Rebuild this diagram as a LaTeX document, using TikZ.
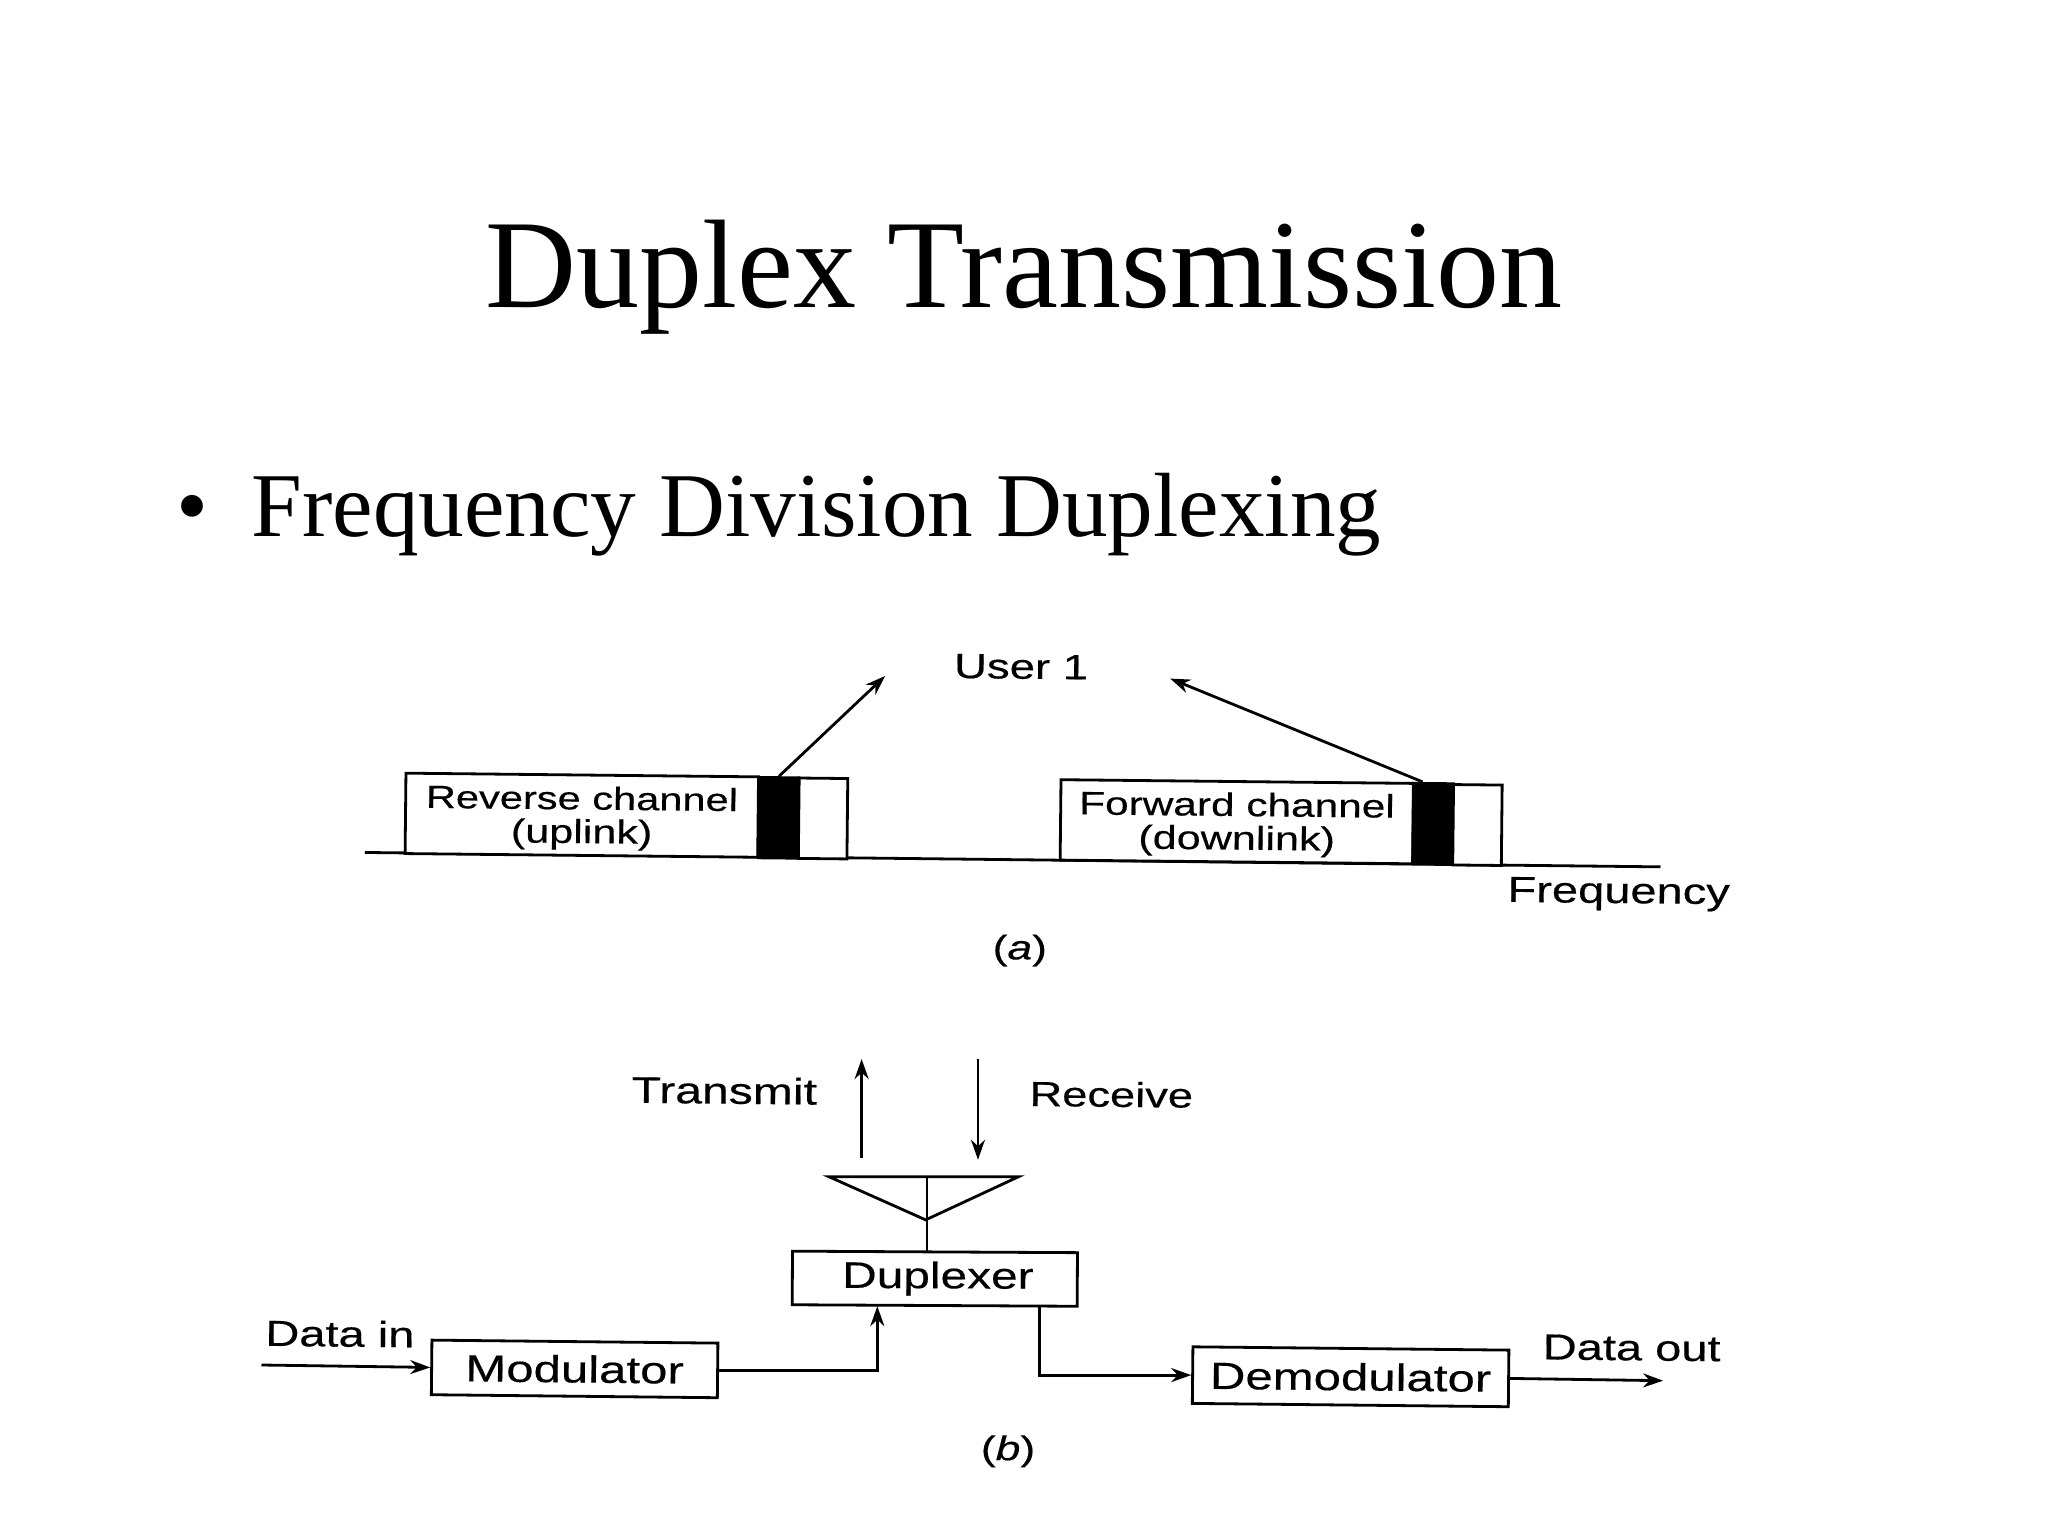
\documentclass[tikz,border=0pt]{standalone}
\usepackage{fontspec}
\setmainfont{Liberation Serif}
\newfontfamily\diagfont{Liberation Sans}[FakeStretch=1.3,FakeBold=0.4]
\newcommand{\fsz}[1]{\fontsize{#1}{16.8}\selectfont}
\newcommand{\toprule}{\rule{0pt}{14.5pt}}
\usetikzlibrary{arrows.meta}
\tikzset{
  x=0.6537pt,y=-0.6537pt,
  title/.style={anchor=base west,inner sep=0,font=\fontsize{63}{70}\selectfont},
  body/.style={anchor=base west,inner sep=0,font=\fontsize{45.6}{50}\selectfont},
  lab/.style={inner sep=0,rotate=-0.6,font=\diagfont\fsz{18.1},text=black},
  box/.style={draw=black,line width=1.4pt,fill=white,inner sep=0,align=center,rotate=-0.6,
    font=\diagfont\fsz{18.9},text=black},
  band/.style={box,minimum height=40.2pt,font=\diagfont\fsz{16.6}},
  blk/.style={band,fill=black,minimum width=20pt},
  blank/.style={band,minimum width=24.3pt},
  conn/.style={draw=black,line width=1.4pt},
  arr/.style={conn,-{Stealth[length=10pt,width=7pt]}}
}
\begin{document}
\begin{tikzpicture}
\useasboundingbox (0,0) rectangle (1566.4,1174.8);
\node[title] (ttl) at (371,235) {Duplex Transmission};
\node[body] (bul) at (135,410) {•};
\node[body] (sub) at (192,410) {Frequency Division Duplexing};
% part a
\coordinate (axl) at (279,652);
\coordinate (axr) at (1270,663);
\draw[conn] (axl) -- (axr);
\node[band,minimum width=176.3pt] (rev) at (445,623.5) {\toprule{\fsz{16}Reverse channel}\\(uplink)};
\node[blk] (revb) at (595.5,625.5) {};
\node[blank] (revw) at (629.5,626) {};
\node[band,minimum width=176.3pt] (fwd) at (946,628.5) {\toprule{\fsz{16.3}Forward channel}\\(downlink)};
\node[blk] (fwdb) at (1096,630) {};
\node[blank] (fwdw) at (1130,631) {};
\node[lab,font=\diagfont\fsz{17.5}] (user) at (781,510) {User 1};
\coordinate (ua) at (677,517);
\coordinate (ub) at (895,519);
\coordinate (fs) at (1088,598);
\draw[arr] (revb.north) -- (ua);
\draw[arr] (fs) -- (ub);
\node[lab] (freq) at (1238,684) {Frequency};
\node[lab,font=\diagfont\fsz{17.1},rotate=0.6] (capa) at (780,727) {(\textit{a})};
% part b
\node[lab,font=\diagfont\fsz{18.5}] (tx) at (554,834) {Transmit};
\node[lab,font=\diagfont\fsz{17.4}] (rx) at (850,837) {Receive};
\coordinate (txa) at (659,886);
\coordinate (txb) at (659,810);
\coordinate (rxa) at (748,810);
\coordinate (rxb) at (748,887);
\draw[arr] (txa) -- (txb);
\draw[arr] (rxa) -- (rxb);
\coordinate (antl) at (634,900);
\coordinate (antr) at (779,900);
\coordinate (antt) at (709,900);
\coordinate (antb) at (708,933);
\draw[conn,line join=miter] (antl) -- (antr) -- (antb) -- cycle;
\node[box,minimum width=142.5pt,minimum height=26.8pt,rotate=0.3] (dup) at (715,978) {\fsz{18.4}\raisebox{-1.3pt}{\,Duplexer}};
\draw[conn] (antt) -- (dup.north -| antt);
\node[box,minimum width=143pt,minimum height=27.3pt] (mod) at (439.5,1047) {Modulator};
\node[box,minimum width=158pt,minimum height=28.3pt] (dem) at (1033,1053) {Demodulator};
\node[lab] (din) at (260,1020) {Data in};
\node[lab] (dout) at (1248,1031) {Data out};
\coordinate (dins) at (200,1044);
\coordinate (dupin) at (671,999);
\coordinate (dupout) at (795,998);
\coordinate (douts) at (1272,1056);
\draw[arr] (dins) -- (mod.west);
\draw[arr] (mod.east) -| (dupin);
\draw[arr] (dupout) |- (dem.west);
\draw[arr] (dem.east) -- (douts);
\node[lab,font=\diagfont\fsz{17.1},rotate=0.6] (capb) at (771,1110) {(\textit{b})};
\end{tikzpicture}
\end{document}
